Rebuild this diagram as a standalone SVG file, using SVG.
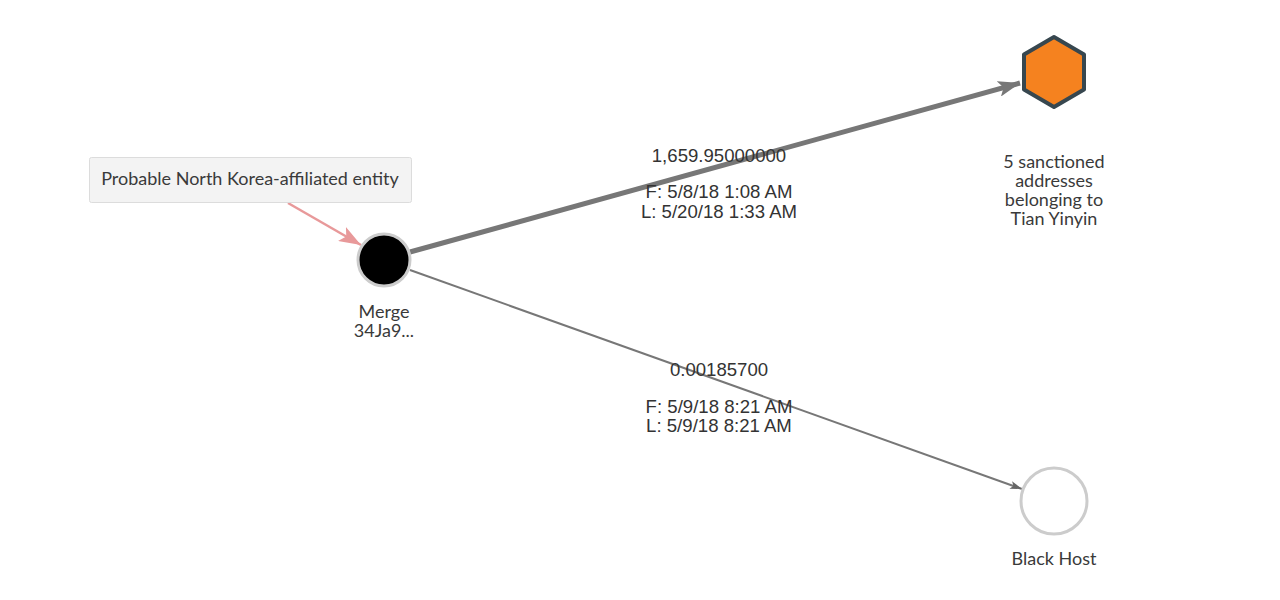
<svg xmlns="http://www.w3.org/2000/svg" width="1280" height="600" viewBox="0 0 1280 600">
<style>
.nl{font-family:Lato,"Source Sans Pro","Noto Sans",sans-serif;font-size:18px;fill:#3a3a3a;text-anchor:middle}
.el{font-family:"Liberation Sans",Arial,sans-serif;font-size:18.6px;fill:#333;text-anchor:middle}
</style>
<defs>
<marker id="ag" viewBox="0 0 22 16" refX="22" refY="8" markerWidth="22" markerHeight="16" markerUnits="userSpaceOnUse" orient="auto">
<path d="M0,0 L22,8 L0,16 L5,8 Z" fill="#777"/>
</marker>
<marker id="ags" viewBox="0 0 12 8" refX="12" refY="4" markerWidth="12" markerHeight="8" markerUnits="userSpaceOnUse" orient="auto">
<path d="M0,0 L12,4 L0,8 L3,4 Z" fill="#666"/>
</marker>
<marker id="ap" viewBox="0 0 22 16" refX="22" refY="8" markerWidth="22" markerHeight="16" markerUnits="userSpaceOnUse" orient="auto">
<path d="M0,0 L22,8 L0,16 L5,8 Z" fill="#e8999a"/>
</marker>
</defs>
<rect width="1280" height="600" fill="#fff"/>
<g id="connectors">
<line x1="410" y1="252" x2="1020" y2="83" stroke="#777" stroke-width="5" marker-end="url(#ag)"/>
<line x1="410" y1="270" x2="1022" y2="489" stroke="#777" stroke-width="2" marker-end="url(#ags)"/>
<line x1="288" y1="203" x2="361" y2="245" stroke="#e8999a" stroke-width="2.5" marker-end="url(#ap)"/>
<text class="el" x="719" y="162">1,659.95000000</text>
<text class="el" x="719" y="198">F: 5/8/18 1:08 AM</text>
<text class="el" x="719" y="218">L: 5/20/18 1:33 AM</text>
<text class="el" x="719" y="376">0.00185700</text>
<text class="el" x="719" y="413">F: 5/9/18 8:21 AM</text>
<text class="el" x="719" y="432">L: 5/9/18 8:21 AM</text>
</g>
<g id="annotation">
<rect x="89.5" y="157.5" width="322" height="45" rx="2" fill="#f3f3f3" stroke="#dcdcdc"/>
<text class="nl" x="250" y="185">Probable North Korea-affiliated entity</text>
</g>
<g id="merge">
<circle cx="384" cy="260" r="26" fill="#000" stroke="#ccc" stroke-width="3"/>
<text class="nl" x="384" y="318">Merge</text>
<text class="nl" x="384" y="337">34Ja9...</text>
</g>
<g id="sanctioned">
<polygon points="1054,37 1084,54.5 1084,89.5 1054,107 1024,89.5 1024,54.5" fill="#f5821f" stroke="#37474f" stroke-width="4" stroke-linejoin="round"/>
<text class="nl" x="1054" y="168">5 sanctioned</text>
<text class="nl" x="1054" y="187">addresses</text>
<text class="nl" x="1054" y="206">belonging to</text>
<text class="nl" x="1054" y="225">Tian Yinyin</text>
</g>
<g id="blackhost">
<circle cx="1054" cy="501" r="33" fill="#fff" stroke="#ccc" stroke-width="3"/>
<text class="nl" x="1054" y="565">Black Host</text>
</g>
</svg>
